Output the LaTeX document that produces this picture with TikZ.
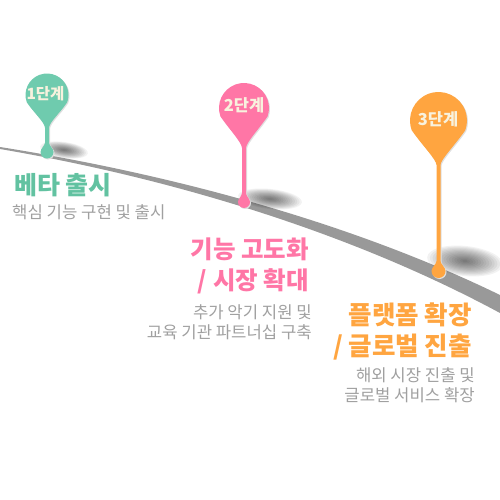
\documentclass[tikz,border=0pt]{standalone}
\usepackage{fontspec}
\setmainfont{Noto Sans CJK KR}
\usepackage{xcolor}
\definecolor{stepgreen}{HTML}{6FCBAE}
\definecolor{titlegreen}{HTML}{62C2A1}
\definecolor{steppink}{HTML}{FF76A6}
\definecolor{steporange}{HTML}{FFA540}
\definecolor{roadgray}{HTML}{999999}
\definecolor{notegray}{HTML}{A0A0A0}
\definecolor{badgecream}{HTML}{F8F2DE}
\tikzset{
  titlelabel/.style={inner sep=0pt, align=right, font=\fontsize{#1}{31}\selectfont\bfseries},
  notelabel/.style={inner sep=0pt, align=right, text=notegray, font=\fontsize{16.7}{20}\selectfont},
  badgelabel/.style={inner sep=0pt, text=badgecream, font=\fontsize{#1}{#1}\selectfont\bfseries},
}
% x, head y, head radius, tip y, bulb y, bulb radius
\newcommand{\pinpath}[6]{
  (#1,#2) ++(160:#3) arc (160:380:#3)
  .. controls (#1+0.55*#3,#2+0.9*#3) and (#1+2.5,#4-6) .. (#1+2,#4)
  -- (#1+2,#5-#6-3)
  .. controls (#1+2,#5-#6) and (#1+#6,#5-0.5*#6) .. (#1+#6,#5)
  arc (0:180:#6)
  .. controls (#1-#6,#5-0.5*#6) and (#1-2,#5-#6) .. (#1-2,#5-#6-3)
  -- (#1-2,#4)
  .. controls (#1-2.5,#4-6) and (#1-0.55*#3,#2+0.9*#3) .. cycle
}
% x, y, x radius, y radius, angle
\newcommand{\groundshadow}[5]{
  \foreach \s in {1,...,14}
    \fill[black, fill opacity=0.05, rotate around={#5:(#1,#2)}] (#1,#2) ellipse ({#3*\s/14} and {#4*\s/14});
}

\begin{document}
\begin{tikzpicture}[x=1pt,y=-1pt]
  \useasboundingbox (0,0) rectangle (500,500);

  % Road
  \fill[roadgray] (0,147) .. controls (170,174) and (350,222) .. (500,295)
    -- (500,313) .. controls (350,232) and (170,178) .. (0,149) -- cycle;

  % Shadows on the ground
  \groundshadow{64}{150}{24}{8}{-8}
  \groundshadow{270}{199}{32}{10}{-6}
  \groundshadow{465}{261}{38}{15}{-6}

  % Pin 1
  \fill[black!12, shift={(1,1)}] \pinpath{47}{95}{21.5}{128}{152}{6.5};
  \fill[stepgreen] \pinpath{47}{95}{21.5}{128}{152}{6.5};
  \node[badgelabel=15.5] (badge1) at (45.5,94) {1단계};

  % Pin 2
  \fill[black!12, shift={(1,1)}] \pinpath{244}{108}{25}{148}{202}{6};
  \fill[steppink] \pinpath{244}{108}{25}{148}{202}{6};
  \node[badgelabel=16.5] (badge2) at (244,105) {2단계};

  % Pin 3
  \fill[black!12, shift={(1,1)}] \pinpath{438.5}{120.5}{28.5}{165}{271}{7};
  \fill[steporange] \pinpath{438.5}{120.5}{28.5}{165}{271}{7};
  \node[badgelabel=16.5] (badge3) at (438,119) {3단계};

  % Step texts
  \node[titlelabel=25, text=titlegreen, anchor=west] (title1) at (14,185) {베타 출시};
  \node[notelabel, anchor=west] (note1) at (12,212) {핵심 기능 구현 및 출시};

  \node[titlelabel=24.5, text=steppink, anchor=east] (title2) at (309,266) {기능 고도화\\/ 시장 확대};
  \node[notelabel, anchor=east] (note2) at (312,322) {추가 악기 지원 및\\교육 기관 파트너십 구축};

  \node[titlelabel=25.5, text=steporange, anchor=east] (title3) at (472,331) {플랫폼 확장\\/ 글로벌 진출};
  \node[notelabel, anchor=east] (note3) at (475,385) {해외 시장 진출 및\\글로벌 서비스 확장};
\end{tikzpicture}
\end{document}
